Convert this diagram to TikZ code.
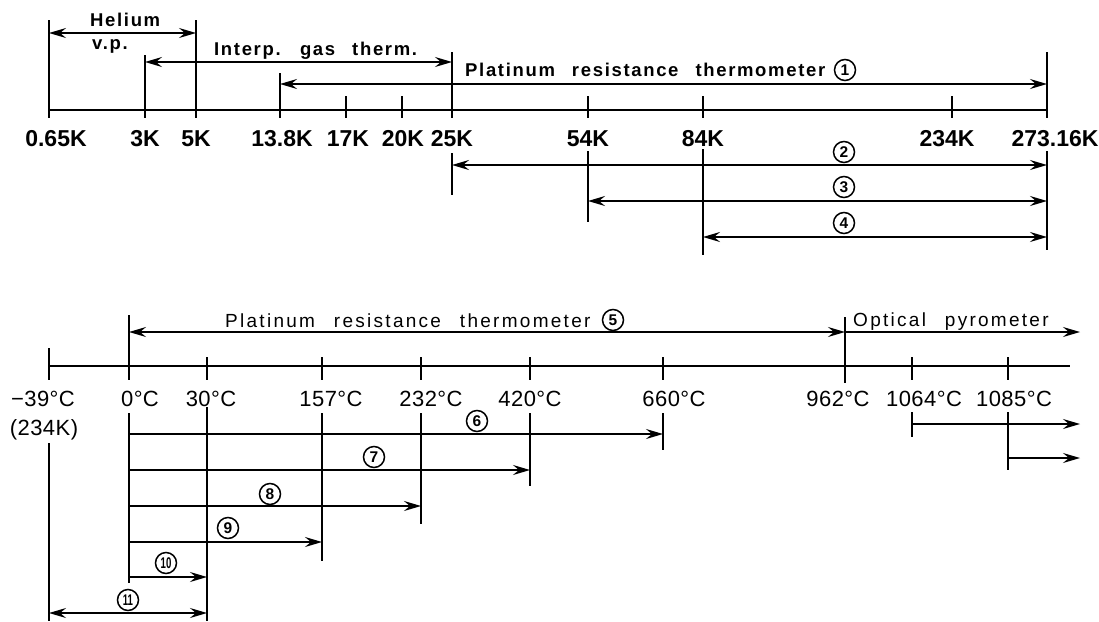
\documentclass[tikz,border=0pt]{standalone}
\usepackage{fontspec}
\setmainfont{Liberation Sans}
\newfontfamily\tickB{Liberation Sans}
\newfontfamily\tickR[LetterSpace=2]{Liberation Sans}
\newfontfamily\capB[LetterSpace=9,WordSpace=2.5]{Liberation Sans}
\newfontfamily\capR[LetterSpace=12,WordSpace=2.5]{Liberation Sans}
\usetikzlibrary{arrows.meta}
\tikzset{
  axisline/.style={line width=2.5pt},
  vline/.style={line width=1.9pt},
  rng/.style={line width=1.7pt},
  tip/.tip={Stealth[length=17pt,width=10pt,inset=6pt]},
  dbl/.style={rng,tip-tip},
  rarrow/.style={rng,-tip},
  klabel/.style={font=\tickB\bfseries\fontsize{23}{26}\selectfont,inner sep=0pt,anchor=base},
  clabel/.style={font=\tickR\fontsize{22}{26}\selectfont,inner sep=0pt,anchor=base},
  cnum/.style={circle,draw,line width=1.5pt,minimum size=21pt,inner sep=0pt,font=\fontsize{15.5}{15.5}\selectfont\bfseries},
  captB/.style={font=\capB\bfseries\fontsize{18.5}{21}\selectfont,inner sep=0pt,anchor=base west},
  captR/.style={font=\capR\fontsize{19}{21}\selectfont,inner sep=0pt,anchor=base west},
}
\newcommand\twodig[1]{\scalebox{0.62}[1]{#1}}
\begin{document}
\begin{tikzpicture}[x=1pt,y=-1pt]
\useasboundingbox (0,0) rectangle (1099,621);
% ===== top scale (K) =====
\coordinate (a0) at (49,110);
\coordinate (a273) at (1047,110);
\draw[axisline] (a0) -- (a273);
% verticals
\draw[vline] (49,20) -- (49,118);
\draw[vline] (145,55) -- (145,118);
\draw[vline] (196,20) -- (196,118);
\draw[vline] (280,73) -- (280,118);
\draw[vline] (346,96) -- (346,118);
\draw[vline] (402,96) -- (402,118);
\draw[vline] (452,52) -- (452,118);
\draw[vline] (588,96) -- (588,118);
\draw[vline] (703,96) -- (703,118);
\draw[vline] (952,96) -- (952,118);
\draw[vline] (1047,52) -- (1047,118);
% lower verticals
\draw[vline] (452,153) -- (452,195);
\draw[vline] (588,151) -- (588,222);
\draw[vline] (703,149) -- (703,255);
\draw[vline] (1047,151) -- (1047,250);
% labels
\node[klabel] (l0) at (56,146) {0.65K};
\node[klabel] (l3) at (145,146) {3K};
\node[klabel] (l5) at (196,146) {5K};
\node[klabel] (l138) at (282,146) {13.8K};
\node[klabel] (l17) at (348,146) {17K};
\node[klabel] (l20) at (403,146) {20K};
\node[klabel] (l25) at (452,146) {25K};
\node[klabel] (l54) at (588,146) {54K};
\node[klabel] (l84) at (703,146) {84K};
\node[klabel] (l234) at (947,146) {234K};
\node[klabel] (l273) at (1055,146) {273.16K};
% range arrows
\coordinate (he1) at (49,33);  \coordinate (he2) at (196,33);
\draw[dbl] (he1) -- (he2);
\node[captB] (helium) at (90,26) {Helium};
\node[captB] (vp) at (92,49) {v.p.};
\coordinate (ig1) at (145,62); \coordinate (ig2) at (452,62);
\draw[dbl] (ig1) -- (ig2);
\node[captB] (interp) at (214,55) {Interp. gas therm.};
\coordinate (p1a) at (280,84); \coordinate (p1b) at (1047,84);
\draw[dbl] (p1a) -- (p1b);
\node[captB] (plat1) at (465,76) {Platinum resistance thermometer};
\node[cnum] (c1) at (845,70) {1};
\coordinate (r2a) at (452,165); \coordinate (r2b) at (1047,165);
\draw[dbl] (r2a) -- (r2b);
\node[cnum] (c2) at (844,152) {2};
\coordinate (r3a) at (588,201); \coordinate (r3b) at (1047,201);
\draw[dbl] (r3a) -- (r3b);
\node[cnum] (c3) at (844,187) {3};
\coordinate (r4a) at (703,237); \coordinate (r4b) at (1047,237);
\draw[dbl] (r4a) -- (r4b);
\node[cnum] (c4) at (844,223) {4};
% ===== bottom scale (C) =====
\coordinate (bm39) at (49,366); \coordinate (bend) at (1070,366);
\draw[axisline] (bm39) -- (bend);
\draw[vline] (49,348) -- (49,380);
\draw[vline] (129,315) -- (129,380);
\draw[vline] (207,357) -- (207,380);
\draw[vline] (322,357) -- (322,380);
\draw[vline] (421,357) -- (421,380);
\draw[vline] (530,357) -- (530,380);
\draw[vline] (663,357) -- (663,380);
\draw[vline] (845,317) -- (845,383);
\draw[vline] (912,357) -- (912,380);
\draw[vline] (1008,357) -- (1008,380);
% lower verticals
\draw[vline] (49,443) -- (49,621);
\draw[vline] (129,413) -- (129,583);
\draw[vline] (207,407) -- (207,621);
\draw[vline] (322,413) -- (322,561);
\draw[vline] (421,413) -- (421,524);
\draw[vline] (530,413) -- (530,486);
\draw[vline] (663,413) -- (663,450);
\draw[vline] (912,412) -- (912,437);
\draw[vline] (1008,412) -- (1008,470);
% labels
\node[clabel] (m39) at (43,406) {−39°C};
\node[clabel] (k234) at (44,435) {(234K)};
\node[clabel] (c0) at (140,406) {0°C};
\node[clabel] (c30) at (211,406) {30°C};
\node[clabel] (c157) at (331,406) {157°C};
\node[clabel] (c232) at (431,406) {232°C};
\node[clabel] (c420) at (530,406) {420°C};
\node[clabel] (c660) at (674,406) {660°C};
\node[clabel] (c962) at (838,406) {962°C};
\node[clabel] (c1064) at (924,406) {1064°C};
\node[clabel] (c1085) at (1014,406) {1085°C};
% range arrows
\coordinate (p5a) at (129,332); \coordinate (p5b) at (845,332);
\draw[dbl] (p5a) -- (p5b);
\node[captR] (plat5) at (225,327) {Platinum resistance thermometer};
\node[cnum] (c5) at (613,320) {5};
\coordinate (opb) at (1080,332);
\draw[rarrow] (p5b) -- (opb);
\node[captR] (opt) at (853,326) {Optical pyrometer};
\coordinate (s6) at (129,434); \coordinate (e6) at (663,434);
\draw[rarrow] (s6) -- (e6);
\node[cnum] (n6) at (477,421) {6};
\coordinate (s7) at (129,470); \coordinate (e7) at (530,470);
\draw[rarrow] (s7) -- (e7);
\node[cnum] (n7) at (374,457) {7};
\coordinate (s8) at (129,506); \coordinate (e8) at (421,506);
\draw[rarrow] (s8) -- (e8);
\node[cnum] (n8) at (270,494) {8};
\coordinate (s9) at (129,542); \coordinate (e9) at (322,542);
\draw[rarrow] (s9) -- (e9);
\node[cnum] (n9) at (228,528) {9};
\coordinate (s10) at (129,577); \coordinate (e10) at (207,577);
\draw[rarrow] (s10) -- (e10);
\node[cnum] (n10) at (166,563) {\twodig{10}};
\coordinate (s11) at (49,613); \coordinate (e11) at (207,613);
\draw[dbl] (s11) -- (e11);
\node[cnum] (n11) at (128,600) {\twodig{11}};
\coordinate (s64) at (912,424); \coordinate (e64) at (1080,424);
\draw[rarrow] (s64) -- (e64);
\coordinate (s85) at (1008,458); \coordinate (e85) at (1080,458);
\draw[rarrow] (s85) -- (e85);
\end{tikzpicture}
\end{document}
